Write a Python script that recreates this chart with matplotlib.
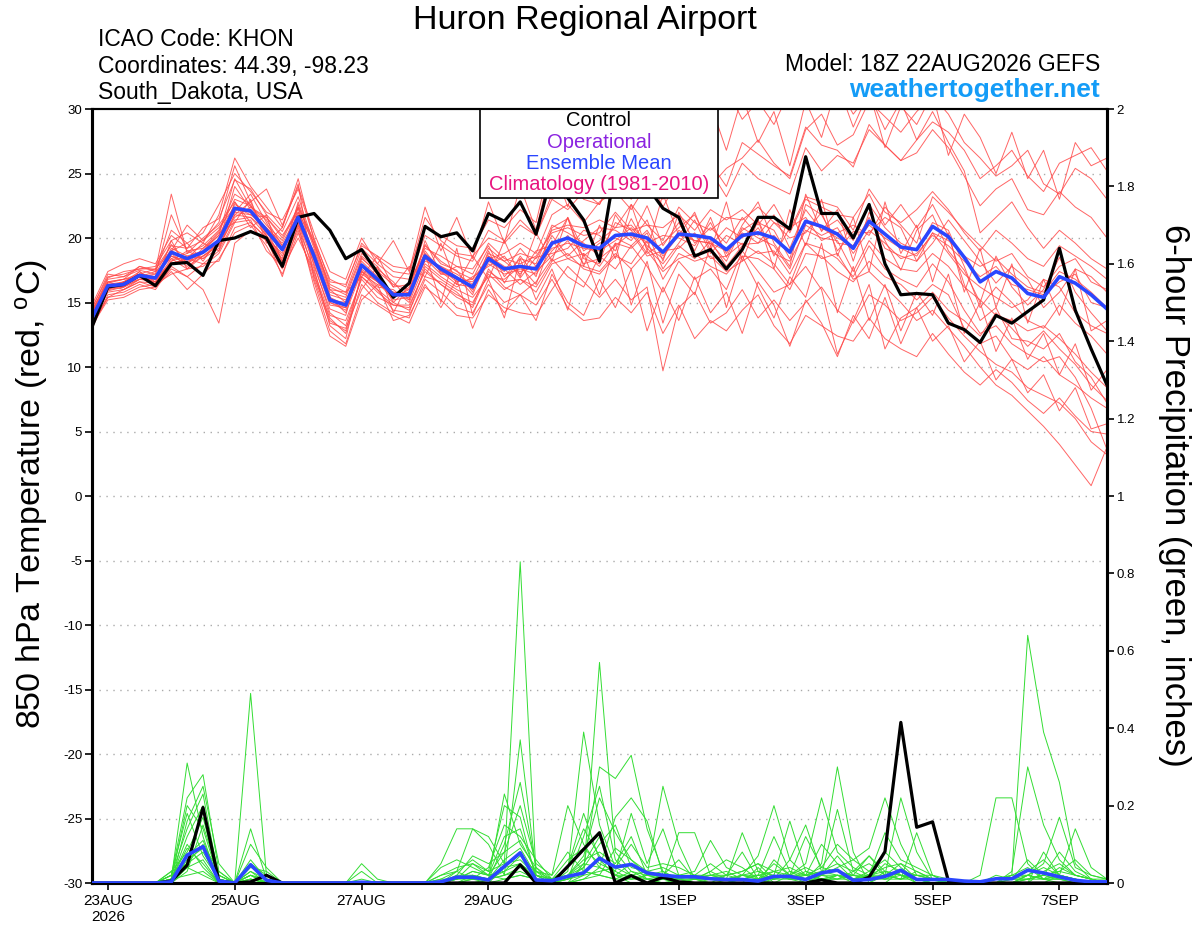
import numpy as np
import pandas as pd
import matplotlib
matplotlib.use("Agg")
import matplotlib.pyplot as plt
from matplotlib.patches import Rectangle

plt.rcParams["font.family"] = ["Liberation Sans", "DejaVu Sans"]
plt.rcParams["axes.unicode_minus"] = False
plt.rcParams["mathtext.default"] = "regular"

# valid times: 6-hourly from 18Z 22AUG2026
times = pd.date_range("2026-08-22 18:00", periods=65, freq="6h")
tick_dates = ["2026-08-23", "2026-08-25", "2026-08-27", "2026-08-29",
              "2026-09-01", "2026-09-03", "2026-09-05", "2026-09-07"]
tick_labels = ["23AUG\n2026", "25AUG", "27AUG", "29AUG", "1SEP", "3SEP", "5SEP", "7SEP"]

# 850 hPa temperature (C)
t_control = [13.1, 16.2, 16.4, 17.1, 16.3, 18.0, 18.1, 17.1,
             19.8, 20.0, 20.5, 20.0, 17.8, 21.6, 21.9, 20.6,
             18.4, 19.1, 17.3, 15.4, 16.5, 20.9, 20.1, 20.4,
             19.0, 21.9, 21.3, 22.8, 20.3, 25.0, 23.1, 21.4,
             18.2, 25.5, 24.5, 24.0, 22.3, 21.6, 18.6, 19.1,
             17.6, 19.1, 21.6, 21.6, 20.7, 26.3, 21.9, 21.9,
             20.0, 22.6, 18.0, 15.6, 15.7, 15.6, 13.4, 12.9,
             11.9, 14.0, 13.4, 14.3, 15.2, 19.2, 14.4, 11.4, 8.6]
t_mean = [13.8, 16.3, 16.4, 17.1, 16.9, 18.9, 18.4, 18.9,
          19.8, 22.3, 22.1, 20.6, 19.1, 21.6, 18.6, 15.2,
          14.8, 17.9, 16.8, 15.6, 15.6, 18.6, 17.6, 16.9,
          16.2, 18.4, 17.6, 17.8, 17.6, 19.6, 20.0, 19.4,
          19.2, 20.2, 20.3, 20.0, 18.9, 20.3, 20.2, 20.0,
          19.1, 20.2, 20.4, 20.0, 18.9, 21.3, 20.9, 20.3,
          19.2, 21.3, 20.3, 19.3, 19.1, 20.9, 20.1, 18.5,
          16.6, 17.4, 16.9, 15.7, 15.4, 17.0, 16.5, 15.6, 14.5]

t_members = [
    [14.2, 16.8, 17.0, 17.5, 17.2, 19.5, 18.0, 19.2, 20.5, 23.0, 22.5, 21.0, 19.8, 22.3, 17.8, 14.5,
     14.0, 18.5, 17.2, 15.0, 16.2, 19.5, 18.0, 17.5, 15.8, 19.0, 16.5, 18.6, 17.0, 20.8, 21.5, 18.4,
     18.0, 21.8, 20.0, 22.5, 19.4, 21.2, 19.0, 21.6, 18.5, 21.0, 22.8, 19.6, 17.8, 23.4, 20.5, 22.2,
     18.2, 22.0, 19.8, 17.5, 20.6, 21.8, 19.0, 17.5, 15.0, 18.6, 16.2, 14.8, 16.0, 18.5, 15.8, 14.2, 12.8],
    [13.5, 15.8, 16.0, 16.6, 16.5, 18.2, 19.0, 18.4, 19.2, 21.8, 22.8, 20.2, 18.6, 21.0, 19.0, 15.6,
     15.2, 17.5, 16.2, 16.0, 15.0, 18.0, 17.0, 16.2, 17.0, 17.8, 18.6, 16.9, 18.5, 18.8, 19.2, 20.6,
     20.2, 19.0, 21.5, 19.2, 18.0, 19.6, 21.4, 18.8, 20.2, 19.5, 19.6, 21.2, 20.0, 20.4, 22.0, 19.0,
     20.5, 20.4, 21.6, 20.8, 18.2, 19.6, 21.4, 19.8, 18.2, 16.5, 17.8, 16.8, 14.6, 15.8, 17.6, 17.0, 15.8],
    [14.8, 17.4, 18.0, 18.4, 18.0, 20.2, 19.2, 20.8, 21.5, 24.5, 23.8, 21.8, 20.5, 23.2, 19.5, 16.4,
     15.8, 19.2, 18.0, 17.0, 16.8, 20.2, 19.4, 18.6, 18.2, 20.6, 19.8, 21.4, 20.2, 23.4, 24.6, 23.0,
     22.6, 25.4, 26.2, 24.8, 23.5, 26.6, 27.0, 25.8, 24.0, 27.4, 26.5, 25.6, 24.8, 28.6, 27.2, 26.8,
     25.5, 28.8, 27.2, 26.0, 26.6, 28.4, 27.0, 24.8, 22.5, 23.8, 24.6, 22.2, 21.8, 23.6, 22.4, 21.6, 20.0],
    [13.2, 15.2, 15.4, 16.0, 16.2, 17.4, 16.0, 17.2, 18.4, 20.4, 21.0, 19.4, 17.2, 20.4, 17.0, 13.8,
     12.6, 16.4, 15.0, 14.2, 13.8, 16.8, 15.8, 14.6, 14.2, 16.4, 15.0, 15.6, 14.8, 16.8, 14.6, 13.6,
     13.8, 15.4, 14.2, 15.8, 12.6, 14.8, 12.2, 13.6, 12.8, 14.4, 15.6, 13.2, 11.8, 14.0, 13.2, 12.4,
     12.0, 13.8, 12.2, 11.4, 10.8, 12.6, 11.0, 9.6, 8.6, 9.8, 8.8, 7.4, 6.4, 7.6, 6.2, 5.0, 4.8],
    [14.0, 16.5, 16.8, 17.8, 17.5, 23.4, 18.8, 20.0, 21.0, 22.8, 21.2, 20.0, 18.8, 22.0, 18.4, 15.0,
     14.4, 17.8, 16.6, 15.2, 15.4, 19.0, 17.4, 16.8, 16.6, 18.2, 17.4, 19.2, 17.8, 20.2, 18.6, 19.8,
     20.8, 20.6, 19.8, 21.4, 18.2, 22.0, 19.6, 20.8, 19.6, 21.6, 20.2, 21.8, 19.2, 22.2, 20.6, 21.4,
     19.8, 22.6, 20.8, 19.6, 19.0, 21.2, 20.6, 17.8, 14.6, 16.2, 15.0, 13.6, 13.0, 14.8, 13.4, 12.4, 11.0],
    [13.6, 16.0, 16.4, 16.8, 17.0, 18.6, 18.2, 18.6, 19.6, 24.0, 22.2, 20.4, 19.2, 21.4, 18.2, 14.8,
     14.6, 18.0, 16.8, 15.6, 15.8, 18.4, 17.8, 17.2, 16.4, 18.8, 18.2, 17.2, 19.0, 19.4, 21.6, 19.0,
     19.8, 20.8, 21.0, 19.6, 20.2, 20.0, 19.4, 21.2, 18.8, 20.6, 21.4, 18.6, 20.8, 21.6, 19.8, 20.4,
     21.0, 20.2, 22.4, 21.0, 19.6, 23.2, 22.0, 20.6, 19.4, 18.2, 18.8, 17.0, 16.2, 17.8, 18.4, 16.6, 16.0],
    [14.4, 16.6, 16.2, 17.4, 16.6, 19.0, 19.6, 18.2, 20.0, 22.0, 23.4, 21.2, 19.0, 22.6, 19.2, 15.8,
     15.4, 18.6, 17.6, 16.6, 15.2, 19.8, 17.2, 17.8, 17.6, 19.4, 17.0, 18.4, 18.0, 21.0, 20.4, 19.6,
     18.6, 21.2, 20.6, 18.8, 19.6, 20.8, 21.8, 19.4, 20.8, 20.0, 21.2, 20.6, 18.4, 22.6, 21.8, 19.6,
     19.4, 21.6, 19.2, 18.6, 18.2, 20.4, 18.8, 17.2, 16.2, 15.4, 14.6, 15.2, 16.8, 16.2, 14.2, 13.2, 12.6],
    [13.0, 15.6, 15.8, 16.4, 16.0, 17.8, 17.0, 16.0, 13.4, 19.6, 20.6, 19.8, 17.6, 20.0, 17.4, 14.0,
     13.6, 16.8, 15.4, 14.8, 14.6, 17.6, 16.4, 15.6, 15.0, 17.2, 16.0, 16.8, 16.2, 18.2, 18.8, 17.6,
     17.2, 18.6, 18.0, 19.8, 16.8, 18.8, 18.2, 18.6, 17.4, 18.2, 19.0, 18.0, 16.4, 19.6, 19.2, 18.4,
     17.0, 19.4, 17.6, 16.8, 16.2, 18.0, 16.6, 14.4, 12.6, 13.2, 11.8, 11.0, 10.4, 10.8, 9.2, 6.8, 3.6],
    [14.6, 17.0, 17.2, 17.6, 17.8, 19.8, 20.4, 19.6, 21.8, 26.2, 24.0, 22.4, 20.8, 24.6, 19.8, 16.8,
     16.2, 19.6, 18.4, 17.4, 17.2, 21.6, 19.8, 18.8, 18.6, 20.0, 19.6, 21.0, 20.2, 23.0, 22.2, 23.6,
     22.6, 24.8, 23.0, 25.0, 22.4, 24.6, 23.6, 25.2, 23.2, 25.8, 24.6, 24.0, 23.4, 27.0, 25.2, 26.4,
     25.8, 28.4, 27.2, 26.0, 27.6, 29.0, 28.2, 26.8, 24.6, 25.6, 26.8, 24.8, 23.6, 25.8, 26.4, 27.0, 25.2],
    [13.4, 15.4, 15.6, 16.2, 16.4, 17.2, 17.6, 17.8, 18.8, 21.2, 21.4, 19.0, 17.8, 20.6, 16.6, 12.8,
     11.8, 15.6, 14.8, 14.0, 13.4, 16.2, 15.2, 14.0, 13.8, 15.6, 14.6, 14.2, 14.0, 16.0, 17.8, 16.6,
     15.4, 16.8, 15.2, 16.2, 9.7, 14.6, 15.8, 13.4, 14.2, 16.0, 13.8, 15.2, 13.6, 15.0, 16.2, 14.4,
     13.4, 15.6, 14.8, 13.6, 14.2, 15.4, 13.8, 12.4, 11.2, 10.2, 9.6, 8.4, 7.8, 7.2, 6.0, 4.2, 3.2],
    [14.1, 16.4, 16.6, 17.2, 17.0, 19.2, 18.6, 19.0, 20.2, 22.6, 22.0, 20.8, 19.6, 21.8, 18.8, 15.4,
     14.8, 18.2, 17.0, 15.4, 16.0, 18.8, 17.6, 16.6, 16.8, 18.4, 18.8, 19.6, 18.8, 21.8, 22.6, 21.2,
     22.8, 23.6, 22.2, 24.2, 23.0, 24.8, 25.6, 24.0, 25.4, 26.2, 27.6, 25.8, 24.6, 28.4, 29.6, 27.2,
     28.0, 30.6, 29.4, 28.2, 29.8, 31.0, 29.6, 27.4, 26.2, 24.8, 25.6, 26.8, 24.2, 23.4, 25.4, 24.6, 23.0],
    [13.9, 16.2, 16.6, 17.0, 17.4, 18.4, 18.8, 19.4, 20.6, 23.4, 22.6, 20.0, 18.4, 22.8, 19.4, 16.0,
     15.0, 17.2, 16.4, 15.8, 15.6, 18.2, 17.8, 17.0, 16.0, 18.6, 17.8, 17.4, 17.8, 19.2, 19.6, 19.2,
     19.0, 19.8, 20.8, 19.4, 18.4, 20.6, 19.8, 19.6, 18.2, 20.8, 20.0, 19.4, 17.6, 21.0, 20.2, 20.8,
     18.8, 20.6, 19.6, 18.4, 18.8, 20.2, 19.4, 18.2, 17.0, 17.8, 16.4, 16.0, 15.6, 16.6, 17.2, 15.0, 14.6],
    [13.7, 16.6, 16.8, 17.0, 16.8, 18.8, 17.8, 18.6, 19.4, 21.6, 22.4, 21.4, 19.4, 21.2, 18.0, 14.2,
     13.2, 17.0, 15.8, 14.8, 14.8, 17.4, 16.4, 15.4, 14.8, 17.6, 16.2, 15.6, 16.6, 18.4, 17.0, 16.2,
     18.6, 17.6, 19.4, 17.8, 15.8, 18.2, 16.8, 17.6, 16.0, 19.0, 17.4, 15.8, 16.4, 17.8, 16.0, 11.0,
     13.6, 16.4, 11.4, 13.8, 14.6, 15.8, 14.4, 13.6, 12.4, 14.2, 13.0, 11.6, 12.8, 11.4, 10.2, 8.6, 7.4],
    [14.3, 16.9, 17.4, 17.6, 17.6, 19.4, 19.2, 19.8, 20.8, 22.4, 21.8, 21.6, 20.2, 22.0, 19.6, 16.2,
     15.6, 18.8, 17.8, 16.2, 16.4, 19.2, 18.6, 17.8, 17.2, 19.6, 18.4, 18.0, 18.6, 20.4, 20.8, 20.2,
     20.4, 22.0, 20.6, 21.0, 20.8, 21.8, 20.6, 22.2, 21.4, 22.2, 21.0, 22.6, 20.4, 23.0, 22.4, 21.8,
     21.6, 23.4, 21.0, 22.6, 20.8, 22.6, 20.2, 16.4, 13.6, 14.6, 12.2, 12.0, 11.4, 12.6, 10.4, 9.2, 7.2],
    [13.3, 15.9, 16.2, 16.8, 16.8, 18.0, 18.4, 18.0, 19.0, 21.4, 21.6, 20.6, 18.2, 20.8, 17.6, 13.2,
     12.2, 17.4, 16.0, 14.4, 14.2, 17.8, 16.8, 16.0, 15.4, 17.0, 16.8, 17.8, 16.4, 19.8, 18.4, 18.8,
     17.8, 19.6, 19.2, 20.4, 17.6, 19.4, 18.4, 19.8, 17.8, 19.4, 20.8, 18.8, 18.2, 20.6, 20.0, 19.8,
     17.4, 19.8, 18.4, 17.6, 17.4, 18.8, 17.8, 16.2, 15.2, 14.0, 13.6, 12.8, 13.2, 12.2, 11.0, 9.6, 8.4],
    [14.5, 17.2, 17.0, 17.8, 17.4, 20.6, 19.6, 20.4, 22.6, 25.0, 23.6, 22.0, 21.4, 23.8, 20.0, 16.6,
     16.4, 19.4, 18.6, 17.8, 17.6, 20.8, 20.2, 19.4, 19.2, 21.4, 20.8, 22.2, 21.2, 26.4, 28.6, 27.2,
     29.2, 30.8, 31.5, 28.6, 27.8, 31.2, 30.4, 29.6, 31.6, 29.2, 30.6, 28.8, 31.4, 32.0, 30.2, 31.8,
     29.6, 31.2, 28.4, 30.6, 27.6, 29.8, 27.4, 25.2, 20.4, 21.6, 22.8, 20.8, 19.2, 20.6, 19.6, 18.4, 17.6],
    [13.8, 16.1, 16.6, 17.2, 17.0, 18.6, 18.0, 18.8, 19.8, 22.2, 22.0, 20.4, 19.0, 21.6, 18.6, 15.0,
     14.6, 17.6, 16.6, 15.4, 15.8, 18.6, 17.4, 16.4, 16.2, 18.0, 17.2, 17.6, 17.2, 19.0, 20.2, 18.6,
     19.6, 20.0, 19.4, 20.6, 18.6, 20.2, 19.8, 19.6, 19.0, 20.4, 19.6, 20.2, 18.8, 21.2, 20.8, 20.0,
     19.4, 21.0, 20.0, 19.2, 18.6, 20.4, 19.8, 18.6, 17.8, 18.4, 17.2, 16.2, 15.8, 17.4, 16.8, 15.8, 14.6],
    [13.6, 16.4, 16.2, 17.0, 16.6, 18.2, 18.6, 18.4, 19.6, 22.0, 21.8, 20.8, 19.4, 21.4, 18.4, 15.4,
     14.2, 17.4, 16.6, 15.8, 15.2, 18.4, 17.2, 17.0, 15.6, 18.6, 17.6, 16.4, 17.4, 18.6, 19.8, 18.0,
     18.4, 19.4, 20.4, 18.6, 19.0, 19.2, 20.4, 18.4, 18.6, 19.6, 18.8, 19.0, 17.2, 19.6, 18.4, 18.8,
     16.8, 17.4, 16.2, 15.0, 13.6, 14.4, 13.0, 11.6, 10.0, 8.6, 7.8, 6.6, 5.4, 4.0, 2.4, 0.8, 3.8],
    [14.0, 16.2, 16.4, 17.0, 17.2, 21.8, 19.0, 19.2, 20.2, 24.6, 22.4, 21.6, 20.0, 22.4, 18.6, 15.2,
     15.0, 18.4, 17.4, 16.4, 16.0, 19.4, 18.2, 17.4, 16.8, 19.2, 18.2, 18.8, 18.4, 20.6, 21.0, 20.8,
     21.4, 20.8, 22.6, 21.0, 19.8, 22.4, 21.2, 20.6, 21.6, 21.4, 22.4, 21.2, 20.6, 23.2, 22.8, 22.4,
     20.6, 23.8, 22.0, 21.2, 22.2, 23.6, 22.2, 20.4, 19.0, 20.6, 19.6, 18.4, 17.8, 19.4, 18.6, 17.8, 16.8],
    [13.5, 16.0, 16.2, 16.8, 16.6, 18.4, 17.6, 18.6, 19.4, 21.8, 21.6, 20.2, 18.2, 21.2, 17.2, 13.6,
     12.8, 17.0, 16.0, 15.0, 14.4, 17.0, 16.6, 15.8, 14.6, 17.4, 16.6, 16.8, 15.8, 18.0, 18.4, 17.8,
     17.4, 18.8, 17.6, 19.0, 17.4, 18.4, 18.8, 17.8, 17.2, 18.6, 18.4, 17.6, 16.0, 18.8, 18.6, 17.4,
     16.6, 18.2, 17.0, 16.4, 15.2, 16.4, 15.6, 13.0, 11.8, 12.4, 10.6, 9.8, 10.8, 9.4, 8.6, 7.6, 6.8],
    [13.4, 16.0, 16.6, 17.4, 16.4, 19.8, 17.6, 19.0, 20.4, 21.2, 23.0, 19.6, 20.8, 24.2, 16.8, 13.4,
     13.0, 16.0, 17.8, 14.2, 16.6, 18.8, 15.0, 19.2, 14.0, 16.8, 13.8, 18.4, 15.2, 17.6, 14.4, 18.8,
     15.6, 19.6, 14.8, 18.2, 13.4, 17.2, 15.6, 19.4, 14.6, 18.6, 16.2, 13.8, 17.0, 15.4, 19.6, 14.2,
     17.8, 13.6, 16.4, 12.8, 15.8, 14.0, 17.2, 12.6, 15.0, 11.2, 13.8, 10.6, 12.6, 9.4, 11.8, 8.2, 9.8],
    [14.2, 16.6, 16.8, 17.2, 17.6, 19.0, 21.0, 19.8, 21.2, 25.6, 22.8, 23.8, 21.0, 24.0, 20.4, 17.4,
     16.8, 20.0, 18.0, 19.8, 17.4, 22.4, 19.0, 21.6, 18.4, 22.8, 19.6, 24.0, 20.6, 25.8, 22.4, 27.0,
     23.8, 28.4, 24.6, 29.6, 25.0, 28.8, 26.2, 30.4, 26.8, 31.0, 27.4, 29.8, 25.6, 30.6, 27.8, 32.0,
     28.6, 31.4, 27.0, 30.2, 28.8, 31.2, 26.4, 29.6, 27.8, 25.0, 28.2, 24.6, 26.8, 23.0, 27.4, 25.6, 26.2],
    [13.9, 16.4, 16.0, 16.8, 17.0, 18.0, 18.4, 19.6, 19.0, 22.8, 20.8, 21.8, 18.0, 22.4, 19.8, 16.0,
     15.8, 17.0, 18.6, 16.2, 17.8, 17.0, 19.6, 16.4, 18.6, 16.8, 19.8, 17.0, 20.4, 18.2, 21.6, 17.8,
     21.0, 18.4, 22.6, 19.0, 23.4, 20.2, 22.0, 19.0, 22.8, 18.2, 21.4, 17.6, 22.2, 19.4, 23.0, 18.6,
     21.6, 17.4, 22.8, 18.8, 21.0, 16.6, 20.4, 15.8, 19.2, 14.6, 18.0, 13.4, 16.8, 14.0, 17.6, 12.8, 13.6],
    [13.2, 15.4, 16.0, 16.6, 16.2, 17.6, 17.0, 18.0, 18.2, 20.8, 21.2, 20.0, 17.0, 21.0, 16.2, 12.4,
     11.6, 15.2, 16.4, 13.6, 14.0, 16.4, 14.6, 16.8, 13.0, 16.0, 14.2, 15.6, 13.6, 17.2, 15.0, 14.0,
     16.8, 14.6, 17.6, 12.8, 16.2, 13.6, 17.0, 14.2, 15.8, 12.6, 16.6, 14.8, 11.6, 15.2, 13.4, 10.8,
     14.0, 12.2, 15.4, 11.8, 14.6, 12.0, 13.2, 10.4, 12.0, 9.0, 10.6, 8.0, 9.4, 6.6, 8.4, 5.2, 5.6],
]

# 6-hour precipitation (inches)
p_control = [0, 0, 0, 0, 0, 0.005, 0.046, 0.195,
             0.005, 0, 0.003, 0.02, 0, 0, 0, 0,
             0, 0, 0, 0, 0, 0, 0, 0,
             0, 0, 0, 0.047, 0, 0, 0.043, 0.087,
             0.13, 0, 0.019, 0, 0.015, 0.003, 0, 0,
             0, 0, 0, 0, 0, 0, 0.008, 0,
             0, 0.015, 0.081, 0.415, 0.144, 0.158, 0.005, 0,
             0, 0, 0, 0, 0, 0, 0, 0, 0]
p_mean = [0, 0, 0, 0, 0, 0.003, 0.072, 0.094,
          0.005, 0, 0.047, 0.007, 0, 0, 0, 0,
          0, 0.002, 0, 0, 0, 0, 0.003, 0.015,
          0.015, 0.008, 0.043, 0.078, 0.008, 0.006, 0.017, 0.026,
          0.064, 0.041, 0.048, 0.026, 0.02, 0.016, 0.016, 0.011,
          0.009, 0.009, 0.005, 0.017, 0.017, 0.009, 0.026, 0.033,
          0.007, 0.009, 0.017, 0.033, 0.009, 0.009, 0.009, 0.005,
          0.003, 0.011, 0.011, 0.033, 0.026, 0.016, 0.007, 0.003, 0.003]

p_members = [
    [0, 0, 0, 0, 0, 0.01, 0.31, 0.12, 0, 0, 0.02, 0, 0, 0, 0, 0,
     0, 0, 0, 0, 0, 0, 0, 0.03, 0.14, 0.12, 0.05, 0.83, 0.02, 0, 0, 0.05,
     0.12, 0.02, 0, 0, 0, 0, 0, 0.01, 0, 0, 0.04, 0, 0.02, 0, 0, 0,
     0, 0, 0, 0.03, 0, 0, 0, 0, 0, 0.01, 0.02, 0.64, 0.39, 0.26, 0.05, 0.01, 0],
    [0, 0, 0, 0, 0, 0.02, 0.22, 0.28, 0.03, 0, 0, 0, 0, 0, 0, 0,
     0, 0, 0, 0, 0, 0, 0.05, 0.14, 0.14, 0.10, 0.02, 0.37, 0.03, 0, 0.03, 0.39,
     0.15, 0.04, 0.02, 0, 0.01, 0, 0, 0, 0, 0, 0, 0.06, 0.02, 0.01, 0.05, 0.30,
     0.08, 0, 0.02, 0.05, 0.01, 0, 0, 0, 0, 0, 0, 0, 0, 0.02, 0.14, 0.04, 0.01],
    [0, 0, 0, 0, 0, 0, 0.16, 0.25, 0.05, 0, 0.49, 0.02, 0, 0, 0, 0,
     0, 0, 0, 0, 0, 0, 0, 0, 0.02, 0.01, 0.23, 0.10, 0.04, 0, 0.01, 0.02,
     0.57, 0.08, 0.03, 0.01, 0, 0.01, 0, 0, 0.02, 0.08, 0.01, 0, 0, 0, 0.02, 0.19,
     0.03, 0.07, 0.02, 0.22, 0.08, 0.01, 0, 0, 0, 0, 0.02, 0.04, 0.01, 0.01, 0, 0, 0],
    [0, 0, 0, 0, 0, 0.01, 0.12, 0.20, 0.02, 0, 0.14, 0.01, 0, 0, 0, 0,
     0, 0.05, 0.01, 0, 0, 0, 0, 0.01, 0.05, 0.03, 0.20, 0.17, 0.01, 0, 0.02, 0.04,
     0.30, 0.27, 0.33, 0.14, 0.03, 0, 0, 0, 0, 0, 0, 0.02, 0.16, 0.03, 0.01, 0.02,
     0, 0, 0.03, 0.02, 0, 0, 0.01, 0, 0.02, 0.22, 0.22, 0.05, 0.01, 0, 0, 0, 0],
    [0, 0, 0, 0, 0, 0.03, 0.08, 0.17, 0.01, 0, 0.10, 0.04, 0, 0, 0, 0,
     0, 0.03, 0, 0, 0, 0, 0.04, 0.06, 0.04, 0.02, 0.08, 0.20, 0.05, 0.02, 0.20, 0.10,
     0.04, 0.17, 0.22, 0.16, 0.02, 0.01, 0, 0, 0, 0.01, 0.02, 0.01, 0.03, 0.01, 0, 0.02,
     0.01, 0.02, 0.13, 0.06, 0.04, 0.02, 0, 0, 0, 0, 0, 0, 0.03, 0.05, 0.02, 0.01, 0],
    [0, 0, 0, 0, 0, 0.01, 0.20, 0.14, 0.01, 0, 0.06, 0.01, 0, 0, 0, 0,
     0, 0, 0, 0, 0, 0, 0.02, 0.03, 0.01, 0.04, 0.15, 0.12, 0.06, 0.01, 0.04, 0.18,
     0.06, 0.02, 0.01, 0.02, 0.25, 0.10, 0.01, 0, 0, 0.02, 0.07, 0.20, 0.06, 0.02, 0.01, 0.01,
     0.03, 0.05, 0.02, 0.01, 0.13, 0.02, 0, 0, 0, 0, 0, 0, 0.08, 0.02, 0.01, 0, 0],
    [0, 0, 0, 0, 0, 0, 0.06, 0.09, 0.02, 0, 0.04, 0.03, 0, 0, 0, 0,
     0, 0, 0, 0, 0, 0, 0, 0.02, 0.02, 0.01, 0.06, 0.09, 0.02, 0, 0.01, 0.04,
     0.10, 0.15, 0.04, 0.03, 0.01, 0.13, 0.13, 0.02, 0.01, 0.13, 0.03, 0.02, 0.01, 0, 0.02, 0.07,
     0.02, 0.01, 0.05, 0.03, 0.02, 0.01, 0.01, 0, 0, 0, 0.03, 0.30, 0.15, 0.06, 0.02, 0.01, 0],
    [0, 0, 0, 0, 0, 0.02, 0.14, 0.23, 0.01, 0, 0.02, 0, 0, 0, 0, 0,
     0, 0.01, 0, 0, 0, 0, 0.01, 0.01, 0.03, 0.02, 0.12, 0.14, 0.02, 0.01, 0.06, 0.09,
     0.05, 0.03, 0.18, 0.05, 0.14, 0.02, 0.03, 0.11, 0.04, 0.02, 0.01, 0.03, 0.04, 0.02, 0.10, 0.05,
     0.01, 0.02, 0.04, 0.05, 0.03, 0.01, 0.01, 0, 0, 0, 0, 0.02, 0.05, 0.17, 0.04, 0.02, 0.01],
    [0, 0, 0, 0, 0, 0.01, 0.04, 0.06, 0, 0, 0.01, 0, 0, 0, 0, 0,
     0, 0, 0, 0, 0, 0, 0, 0, 0.01, 0, 0.04, 0.05, 0.01, 0, 0.02, 0.06,
     0.08, 0.05, 0.12, 0.02, 0.02, 0.06, 0.01, 0.03, 0.06, 0.04, 0.01, 0.05, 0.02, 0.12, 0.04, 0.03,
     0.02, 0.07, 0.03, 0.02, 0.01, 0.01, 0, 0, 0, 0, 0.01, 0.01, 0.02, 0.03, 0.06, 0.02, 0.01],
    [0, 0, 0, 0, 0, 0.03, 0.05, 0.10, 0.03, 0, 0.03, 0.01, 0, 0, 0, 0,
     0, 0, 0, 0, 0, 0, 0.02, 0.04, 0.05, 0.02, 0.03, 0.07, 0.03, 0.02, 0.08, 0.03,
     0.02, 0.09, 0.06, 0.03, 0.02, 0.01, 0.02, 0.05, 0.02, 0.03, 0.05, 0.01, 0.06, 0.15, 0.03, 0.02,
     0.01, 0.03, 0.06, 0.02, 0.01, 0.01, 0, 0, 0, 0.01, 0.01, 0.02, 0.01, 0.04, 0.02, 0.01, 0],
    [0, 0, 0, 0, 0, 0.01, 0.10, 0.04, 0, 0, 0.01, 0, 0, 0, 0, 0,
     0, 0, 0, 0, 0, 0, 0, 0.01, 0.01, 0.01, 0.02, 0.04, 0.01, 0, 0, 0.01,
     0.04, 0.02, 0.05, 0.01, 0.01, 0.02, 0.02, 0.01, 0.01, 0.02, 0.02, 0.03, 0.02, 0.05, 0.22, 0.08,
     0.04, 0.02, 0.01, 0.01, 0.02, 0.02, 0.01, 0, 0, 0.01, 0.02, 0.02, 0.01, 0.02, 0.01, 0, 0],
    [0, 0, 0, 0, 0, 0.02, 0.18, 0.07, 0.01, 0, 0.05, 0.02, 0, 0, 0, 0,
     0, 0, 0, 0, 0, 0, 0, 0, 0, 0.01, 0.10, 0.26, 0.04, 0.01, 0.01, 0.12,
     0.25, 0.06, 0.02, 0.01, 0, 0, 0.01, 0, 0, 0.01, 0, 0.01, 0.01, 0.01, 0.02, 0.04,
     0.06, 0.09, 0.22, 0.10, 0.02, 0.01, 0, 0, 0, 0, 0, 0.02, 0.04, 0.02, 0.01, 0, 0],
    [0, 0, 0, 0, 0, 0, 0.03, 0.15, 0.02, 0, 0.02, 0.01, 0, 0, 0, 0,
     0, 0, 0, 0, 0, 0, 0, 0, 0, 0, 0.01, 0.02, 0.01, 0, 0, 0.02,
     0.03, 0.04, 0.10, 0.04, 0.05, 0.04, 0.02, 0.02, 0.03, 0.01, 0.02, 0.12, 0.03, 0.02, 0.04, 0.10,
     0.06, 0.03, 0.08, 0.04, 0.01, 0, 0, 0, 0, 0.02, 0.01, 0.06, 0.02, 0.01, 0, 0, 0],
    [0, 0, 0, 0, 0, 0.01, 0.07, 0.11, 0.01, 0, 0.02, 0, 0, 0, 0, 0,
     0, 0, 0, 0, 0, 0, 0, 0.02, 0.07, 0.05, 0.08, 0.11, 0.03, 0.01, 0.02, 0.07,
     0.22, 0.13, 0.06, 0.02, 0.03, 0.01, 0.01, 0.02, 0.02, 0.01, 0.01, 0.02, 0.01, 0.03, 0.02, 0.02,
     0.02, 0.02, 0.02, 0.01, 0.03, 0.01, 0, 0, 0, 0, 0, 0.01, 0.02, 0.08, 0.03, 0.01, 0],
    [0, 0, 0, 0, 0, 0.01, 0.02, 0.03, 0, 0, 0, 0, 0, 0, 0, 0,
     0, 0, 0, 0, 0, 0, 0, 0.01, 0.02, 0.01, 0.02, 0.03, 0.01, 0, 0.01, 0.03,
     0.02, 0.01, 0.03, 0.02, 0.01, 0.01, 0.01, 0.02, 0.01, 0.01, 0.02, 0.01, 0.02, 0.04, 0.02, 0.01,
     0.02, 0.01, 0.02, 0.01, 0.01, 0, 0, 0, 0, 0, 0, 0.01, 0.01, 0.02, 0.01, 0, 0],
    [0, 0, 0, 0, 0, 0.01, 0.09, 0.05, 0, 0, 0.03, 0, 0, 0, 0, 0,
     0, 0, 0, 0, 0, 0, 0.01, 0.03, 0.06, 0.03, 0.05, 0.06, 0.02, 0, 0.04, 0.14,
     0.07, 0.03, 0.01, 0.01, 0.02, 0.02, 0.01, 0.01, 0.01, 0.02, 0.03, 0.01, 0.02, 0.02, 0.03, 0.05,
     0.03, 0.01, 0.01, 0.02, 0.01, 0.01, 0, 0, 0, 0.01, 0.01, 0.03, 0.06, 0.02, 0.01, 0, 0],
    [0, 0, 0, 0, 0, 0.02, 0.05, 0.08, 0.01, 0, 0.01, 0, 0, 0, 0, 0,
     0, 0, 0, 0, 0, 0, 0, 0, 0.01, 0.01, 0.03, 0.05, 0.02, 0.01, 0.02, 0.05,
     0.04, 0.02, 0.02, 0.03, 0.04, 0.02, 0.01, 0.01, 0.02, 0.03, 0.05, 0.03, 0.01, 0.02, 0.01, 0.02,
     0.01, 0.02, 0.03, 0.02, 0.02, 0.01, 0, 0, 0, 0, 0.01, 0.01, 0.02, 0.03, 0.02, 0.01, 0.01],
    [0, 0, 0, 0, 0, 0, 0.04, 0.02, 0, 0, 0.01, 0, 0, 0, 0, 0,
     0, 0, 0, 0, 0, 0, 0, 0.01, 0.03, 0.02, 0.01, 0.02, 0.01, 0, 0, 0.01,
     0.02, 0.01, 0.01, 0.02, 0.01, 0, 0.01, 0.03, 0.01, 0.02, 0.01, 0.02, 0.01, 0.01, 0.01, 0.01,
     0.01, 0.02, 0.01, 0.03, 0.01, 0, 0, 0, 0, 0, 0, 0.02, 0.01, 0.01, 0.01, 0, 0],
]

fig = plt.figure(figsize=(12, 9.27), dpi=100)
ax = fig.add_axes([92 / 1200, 1 - 883 / 927, 1015 / 1200, 774 / 927])
ax2 = ax.twinx()

# ensemble members
for m in t_members:
    ax.plot(times, m, color="#ff4a4a", lw=0.7, alpha=0.85, zorder=2)
for m in p_members:
    ax2.plot(times, m, color="#33dd33", lw=0.7, zorder=2)

ax.plot(times, t_control, color="black", lw=2.3, zorder=4)
ax.plot(times, t_mean, color="#2a46ff", lw=2.6, zorder=5)
ax2.plot(times, p_control, color="black", lw=2.3, zorder=4)
ax2.plot(times, p_mean, color="#2a46ff", lw=2.6, zorder=5)

ax.set_xlim(times[0], times[-1])
ax.set_ylim(-30, 30)
ax2.set_ylim(0, 2)
ax.set_yticks(np.arange(-30, 31, 5))
ax2.set_yticks(np.arange(0, 2.01, 0.2))
ax2.set_yticklabels(["0", "0.2", "0.4", "0.6", "0.8", "1", "1.2", "1.4", "1.6", "1.8", "2"])
ax.set_xticks(pd.to_datetime(tick_dates))
ax.set_xticklabels(tick_labels)

for y in range(-25, 30, 5):
    ax.axhline(y, color="#aaaaaa", lw=1, ls=(0, (1, 4)), zorder=1)

ax.tick_params(axis="y", labelsize=9.5, length=5, width=1.2, pad=2)
ax2.tick_params(axis="y", labelsize=9.5, length=5, width=1.2, pad=2)
ax.tick_params(axis="x", labelsize=11, length=5, width=1.2, pad=3)

for a in (ax, ax2):
    a.spines["left"].set_linewidth(2.2)
    a.spines["right"].set_linewidth(2.2)
    a.spines["bottom"].set_linewidth(2.2)
    a.spines["top"].set_linewidth(1.5)

# legend box
ax.add_patch(Rectangle((0.3823, 0.885), 0.2344, 0.115, transform=ax.transAxes,
                       facecolor="white", edgecolor="black", lw=1.2, zorder=10))
leg_items = [("Control", "black"), ("Operational", "#8a22e0"),
             ("Ensemble Mean", "#2a46ff"), ("Climatology (1981-2010)", "#e8147f")]
for k, (lbl, col) in enumerate(leg_items):
    ax.text(0.4995, 0.9845 - k * 0.0275, lbl, color=col, fontsize=14.5,
            ha="center", va="center", transform=ax.transAxes, zorder=11)

# header
fig.text(585 / 1200, 1 - 29 / 927, "Huron Regional Airport", fontsize=24.5,
         ha="center", va="baseline")
for k, line in enumerate(["ICAO Code: KHON", "Coordinates: 44.39, -98.23",
                          "South_Dakota, USA"]):
    fig.text(98 / 1200, 1 - (45.7 + 26.8 * k) / 927, line, fontsize=16.5,
             ha="left", va="baseline")
fig.text(1100 / 1200, 1 - 70.7 / 927, "Model: 18Z 22AUG2026 GEFS", fontsize=16.5,
         ha="right", va="baseline")
fig.text(1100 / 1200, 1 - 96.7 / 927, "weathertogether.net", fontsize=19,
         fontweight="bold", color="#149cf7", ha="right", va="baseline")

fig.text(32 / 1200, 1 - 494 / 927, "850 hPa Temperature (red, $^o$C)", fontsize=24.5,
         rotation=90, ha="center", va="center")
fig.text(1175 / 1200, 1 - 495 / 927, "6-hour Precipitation (green, inches)",
         fontsize=25, rotation=270, ha="center", va="center")

fig.savefig("out.png", dpi=100)
